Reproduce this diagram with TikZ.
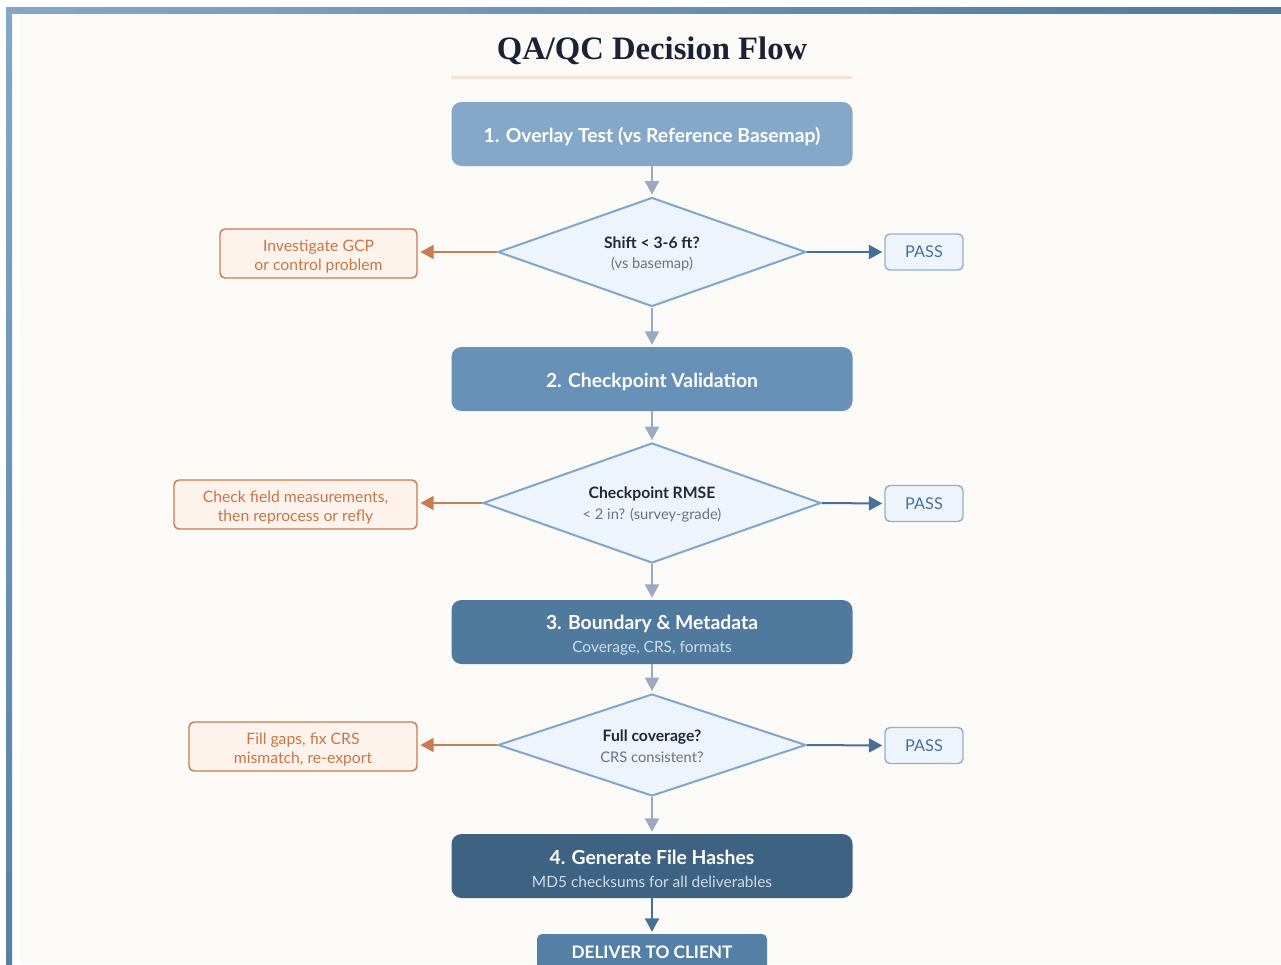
\documentclass[tikz,border=0pt]{standalone}
\usepackage{fontspec}
\setmainfont{Lato}
\newfontfamily\titlefont{Liberation Serif}
\usetikzlibrary{shapes.geometric,arrows.meta}

\definecolor{pagebg}{HTML}{FBFAF7}
\definecolor{barlight}{HTML}{84A7C8}
\definecolor{bardark}{HTML}{4E7A9E}
\definecolor{titleink}{HTML}{1A2234}
\definecolor{ruleline}{HTML}{F3E5D5}
\definecolor{stepA}{HTML}{85A8C8}
\definecolor{stepB}{HTML}{6891B8}
\definecolor{stepC}{HTML}{4F7A9E}
\definecolor{stepD}{HTML}{3E6282}
\definecolor{deliverfill}{HTML}{5580A5}
\definecolor{decfill}{HTML}{EEF4FB}
\definecolor{decline}{HTML}{80A6CA}
\definecolor{decink}{HTML}{1F2937}
\definecolor{subink}{HTML}{6B7280}
\definecolor{failline}{HTML}{C97C4F}
\definecolor{failfill}{HTML}{FDF3EC}
\definecolor{failink}{HTML}{C77646}
\definecolor{passline}{HTML}{8FB1D2}
\definecolor{passink}{HTML}{46709A}
\definecolor{flowgray}{HTML}{9AAAC3}
\definecolor{stepsub}{HTML}{CFDCE9}

% raises the first line of a node so the text block sits lower
\newcommand\toplift[1]{\rule{0pt}{#1}}

\begin{document}
\begin{tikzpicture}[x=0.75pt,y=-0.75pt,
  stepbox/.style={rounded corners=7.5pt,minimum width=300.75pt,minimum height=48pt,
    text=white,align=center,inner sep=0pt,font=\fontsize{14.5}{17.25}\selectfont},
  decision/.style={diamond,aspect=3,draw=decline,line width=1.5pt,fill=decfill,inner sep=0pt,
    align=center,text=decink,font=\fontsize{11.8}{15}\selectfont},
  failbox/.style={draw=failline,fill=failfill,line width=1.1pt,rounded corners=3.75pt,
    minimum height=36.75pt,inner sep=0pt,align=center,text=failink,
    font=\fontsize{11.8}{14.25}\selectfont},
  passbox/.style={draw=passline,fill=decfill,line width=1.1pt,rounded corners=3.75pt,
    minimum width=58.5pt,minimum height=27pt,inner sep=0pt,text=passink,
    font=\fontsize{12.2}{13}\selectfont},
  flow/.style={draw=flowgray,line width=1.5pt,-{Triangle[length=10pt,width=10.5pt]},shorten >=1.5pt},
  yes/.style={draw=passink,line width=1.5pt,-{Triangle[length=10pt,width=10.5pt]},shorten >=1.5pt},
  no/.style={draw=failline,line width=1.5pt,-{Triangle[length=10pt,width=10.5pt]},shorten >=2pt}]

% frame
\useasboundingbox (0,0) rectangle (1281,964);
\fill[white] (0,0) rectangle (1281,964);
\fill[pagebg] (20,13) rectangle (1281,964);
\shade[left color=barlight,right color=bardark] (6,7) rectangle (1281,13);
\shade[top color=barlight,bottom color=deliverfill] (6,7) rectangle (12,964);

% title
\node[font=\titlefont\bfseries\fontsize{24.5}{28}\selectfont,text=titleink] (title) at (652,51) {QA/QC Decision Flow};
\draw[ruleline,line width=2.25pt] (451,77) -- (852,77);

% step 1
\node[stepbox,fill=stepA] (overlay) at (652,134) {\toplift{15pt}\bfseries 1. Overlay Test (vs Reference Basemap)};
\node[decision,minimum width=231pt,minimum height=81.75pt] (shift) at (652,252)
  {\toplift{11pt}\bfseries Shift < 3-6 ft?\\{\color{subink}\fontsize{11}{12}\selectfont (vs basemap)}};
\node[failbox,minimum width=147.75pt] (gcp) at (318.5,253.5) {\toplift{14pt}Investigate GCP\\or control problem};
\node[passbox] (pass1) at (924,252) {PASS};

% step 2
\node[stepbox,fill=stepB] (checkpt) at (652,379) {\toplift{15pt}\bfseries 2. Checkpoint Validation};
\node[decision,minimum width=253.5pt,minimum height=90pt] (rmse) at (652,503)
  {\toplift{11pt}\bfseries Checkpoint RMSE\\[1pt]{\color{subink}\fontsize{11}{12}\selectfont < 2 in? (survey-grade)}};
\node[failbox,minimum width=182.25pt] (refly) at (295.5,504.5) {\toplift{14pt}Check field measurements,\\then reprocess or refly};
\node[passbox] (pass2) at (924,503.5) {PASS};

% step 3
\node[stepbox,fill=stepC] (boundary) at (652,632)
  {\toplift{15pt}\bfseries 3. Boundary \& Metadata\\{\color{stepsub}\fontsize{11.6}{12}\selectfont Coverage, CRS, formats}};
\node[decision,minimum width=231pt,minimum height=76.5pt] (cover) at (652,745)
  {\toplift{11pt}\bfseries Full coverage?\\[1pt]{\color{subink}\fontsize{11}{12}\selectfont CRS consistent?}};
\node[failbox,minimum width=171pt] (regaps) at (303,746.5) {\toplift{14pt}Fill gaps, fix CRS\\mismatch, re-export};
\node[passbox] (pass3) at (924,745.5) {PASS};

% step 4
\node[stepbox,fill=stepD] (hashes) at (652,866)
  {\toplift{15pt}\bfseries 4. Generate File Hashes\\{\color{stepsub}\fontsize{11.6}{12}\selectfont MD5 checksums for all deliverables}};
\node[rounded corners=3.75pt,fill=deliverfill,minimum width=172.5pt,minimum height=27pt,
  text=white,font=\bfseries\fontsize{12.9}{14}\selectfont] (deliver) at (652,952) {DELIVER TO CLIENT};

% connectors
\draw[flow] (overlay) -- (shift);
\draw[flow] (shift) -- (checkpt);
\draw[flow] (checkpt) -- (rmse);
\draw[flow] (rmse) -- (boundary);
\draw[flow] (boundary) -- (cover);
\draw[flow] (cover) -- (hashes);
\draw[yes] (hashes) -- (deliver);
\draw[no] (shift.west) -- (gcp.east |- shift.west);
\draw[no] (rmse.west) -- (refly.east |- rmse.west);
\draw[no] (cover.west) -- (regaps.east |- cover.west);
\draw[yes] (shift.east) -- (pass1.west);
\draw[yes] (rmse.east) -- (pass2.west);
\draw[yes] (cover.east) -- (pass3.west);
\end{tikzpicture}
\end{document}
